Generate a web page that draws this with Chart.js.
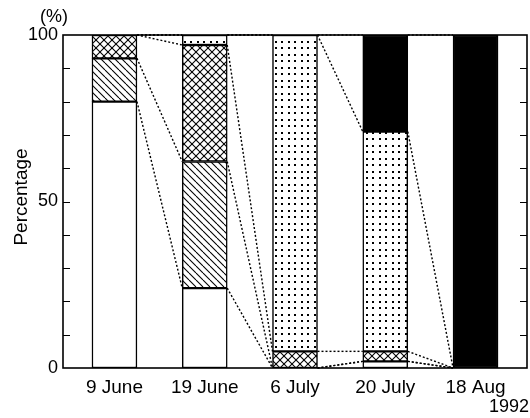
<!DOCTYPE html>
<html>
<head>
<meta charset="utf-8">
<script src="https://cdn.jsdelivr.net/npm/chart.js@4"></script>
<style>
  body { margin: 0; background: #fff; }
  canvas { display: block; }
</style>
</head>
<body>
<canvas id="chart" width="530" height="418"></canvas>
<script>
// sampling dates
const dates = ['9 June', '19 June', '6 July', '20 July', '18 Aug'];

// percentage of each class per date, bottom to top
const blankPart   = [80, 24, 0, 2, 0];
const hatchedPart = [13, 38, 0, 0, 0];
const crossPart   = [7, 35, 5, 3, 0];
const dottedPart  = [0, 3, 95, 66, 0];
const blackPart   = [0, 0, 0, 29, 100];

const yTicks = [0, 50, 100];

function tile(size, draw) {
  const c = document.createElement('canvas');
  c.width = size; c.height = size;
  const g = c.getContext('2d');
  g.fillStyle = '#fff';
  g.fillRect(0, 0, size, size);
  draw(g, size);
  return document.getElementById('chart').getContext('2d').createPattern(c, 'repeat');
}

const hatch = tile(7, (g, p) => {
  g.strokeStyle = '#000'; g.lineWidth = 1.1;
  for (const k of [-p, 0, p]) {
    g.beginPath(); g.moveTo(k, 0); g.lineTo(k + p, p); g.stroke();
  }
});
const cross = tile(8, (g, p) => {
  g.strokeStyle = '#000'; g.lineWidth = 1.1;
  for (const k of [-p, 0, p]) {
    g.beginPath(); g.moveTo(k, 0); g.lineTo(k + p, p); g.stroke();
    g.beginPath(); g.moveTo(k, p); g.lineTo(k + p, 0); g.stroke();
  }
});
const dots = tile(13, (g) => {
  g.fillStyle = '#000';
  for (const a of [2, 8]) for (const b of [2, 8]) g.fillRect(a, b, 2, 2);
});

const toPts = arr => arr.map((v, i) => ({ x: i, y: v }));

const series = [
  { data: blankPart, fill: '#fff' },
  { data: hatchedPart, fill: hatch },
  { data: crossPart, fill: cross },
  { data: dottedPart, fill: dots },
  { data: blackPart, fill: '#000' }
];

const frame = {
  id: 'frame',
  afterDatasetsDraw(chart) {
    const ctx = chart.ctx, a = chart.chartArea, y = chart.scales.y;
    ctx.save();
    // dotted connectors between segment tops of neighbouring bars
    ctx.strokeStyle = '#000';
    ctx.lineWidth = 1.4;
    ctx.setLineDash([2, 2]);
    chart.data.datasets.forEach((ds, d) => {
      const els = chart.getDatasetMeta(d).data;
      for (let j = 0; j + 1 < els.length; j++) {
        const p = els[j].getProps(['x', 'y', 'width'], true);
        const q = els[j + 1].getProps(['x', 'y', 'width'], true);
        ctx.beginPath();
        ctx.moveTo(p.x + p.width / 2, p.y);
        ctx.lineTo(q.x - q.width / 2, q.y);
        ctx.stroke();
      }
    });
    ctx.setLineDash([]);
    // box and inward ticks
    ctx.lineWidth = 1.6;
    ctx.strokeRect(a.left, a.top, a.right - a.left, a.bottom - a.top);
    ctx.lineWidth = 1.2;
    for (let v = 10; v < 100; v += 10) {
      const py = Math.round(y.getPixelForValue(v)) + 0.5;
      ctx.beginPath();
      ctx.moveTo(a.left, py); ctx.lineTo(a.left + 7, py);
      ctx.moveTo(a.right, py); ctx.lineTo(a.right - 7, py);
      ctx.stroke();
    }
    ctx.restore();
  },
  afterDraw(chart) {
    const ctx = chart.ctx;
    ctx.save();
    ctx.fillStyle = '#000';
    ctx.textBaseline = 'middle';
    ctx.font = '18px "Liberation Sans", Arial, sans-serif';
    ctx.textAlign = 'center';
    ctx.fillText('(%)', 54, 17);
    ctx.textAlign = 'right';
    ctx.fillText('1992', 529, 407);
    ctx.translate(22, 197);
    ctx.rotate(-Math.PI / 2);
    ctx.textAlign = 'center';
    ctx.font = '19px "Liberation Sans", Arial, sans-serif';
    ctx.fillText('Percentage', 0, 0);
    ctx.restore();
  }
};

new Chart(document.getElementById('chart'), {
  type: 'bar',
  data: {
    datasets: series.map(s => ({
      data: toPts(s.data),
      backgroundColor: s.fill,
      borderColor: '#000',
      borderWidth: 1.5,
      borderSkipped: false,
      barThickness: 45
    }))
  },
  options: {
    responsive: false,
    animation: false,
    layout: { padding: { top: 35, right: 3, left: 0, bottom: 0 } },
    plugins: { legend: { display: false }, tooltip: { enabled: false } },
    scales: {
      x: {
        type: 'linear',
        stacked: true,
        offset: false,
        min: -0.57,
        max: 4.57,
        grid: { display: false, drawTicks: false },
        border: { display: false },
        afterFit(scale) { scale.height = 50; },
        ticks: {
          stepSize: 1,
          includeBounds: false,
          autoSkip: false,
          maxRotation: 0,
          padding: 8,
          color: '#000',
          font: { family: '"Liberation Sans", Arial, sans-serif', size: 19 },
          callback: v => (Number.isInteger(v) && dates[v] !== undefined) ? dates[v] : ''
        }
      },
      y: {
        stacked: true,
        min: 0,
        max: 100,
        grid: { display: false, drawTicks: false },
        border: { display: false },
        afterFit(scale) { scale.width = 63; },
        ticks: {
          stepSize: 10,
          padding: 5,
          color: '#000',
          font: { family: '"Liberation Sans", Arial, sans-serif', size: 18 },
          callback: v => yTicks.includes(v) ? v : ''
        }
      }
    }
  },
  plugins: [frame]
});
</script>
</body>
</html>
